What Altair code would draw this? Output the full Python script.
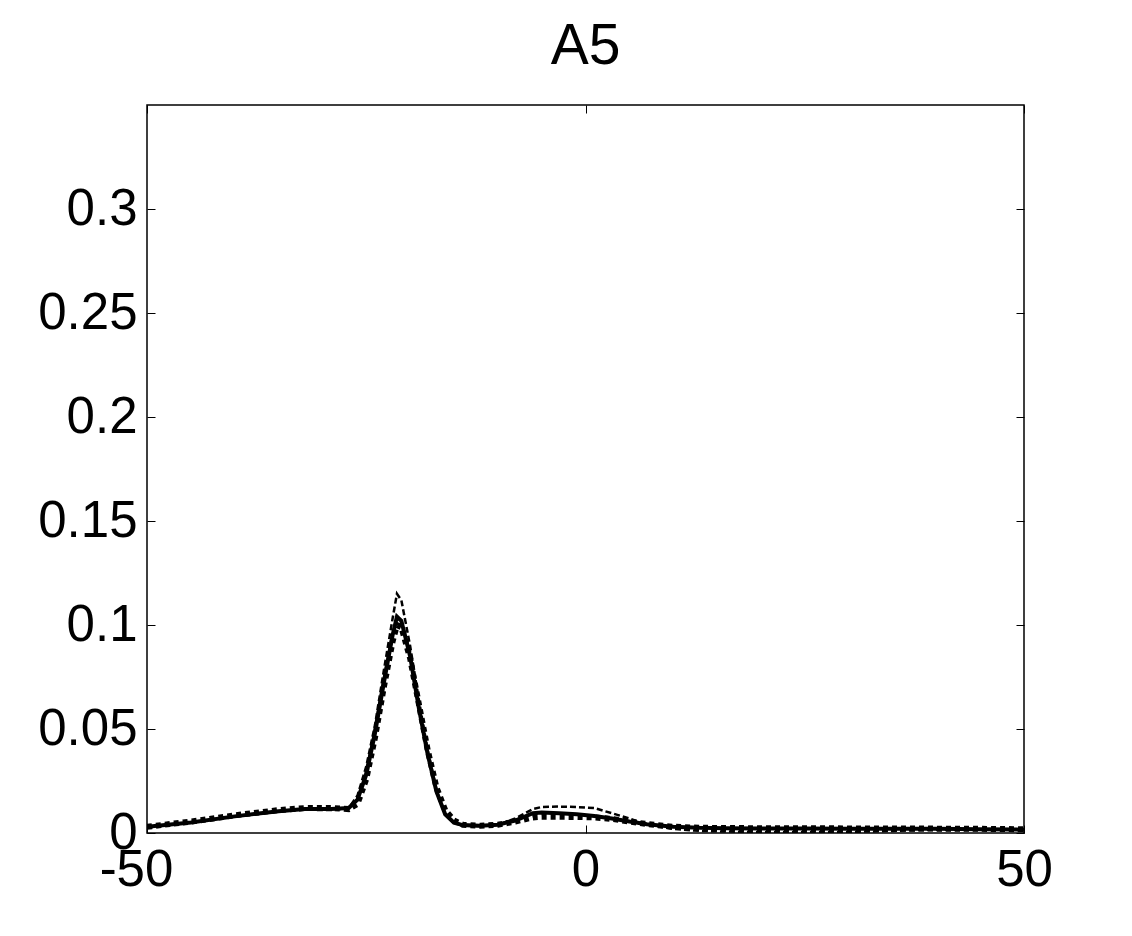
import altair as alt
import pandas as pd

# x positions
x_vals = [-50, -45, -40, -35, -32, -29, -27, -26, -25, -24, -23, -22, -21.5, -21,
          -20, -19, -18, -17, -16, -15, -14, -12, -10, -8, -6, -5, -3, -1, 1, 3,
          5, 7, 10, 13, 16, 20, 25, 30, 35, 40, 45, 50]

solid = [0.003, 0.005, 0.008, 0.0105, 0.0115, 0.0115, 0.012, 0.016, 0.028, 0.048,
         0.072, 0.095, 0.104, 0.102, 0.085, 0.060, 0.038, 0.020, 0.009, 0.005,
         0.0038, 0.0035, 0.004, 0.006, 0.0095, 0.0098, 0.0095, 0.009, 0.0082, 0.007,
         0.0055, 0.0042, 0.003, 0.0025, 0.0023, 0.0022, 0.0022, 0.0021, 0.002, 0.002,
         0.0018, 0.0016]

dotted = [0.003, 0.0055, 0.0085, 0.011, 0.012, 0.012, 0.0115, 0.014, 0.026, 0.046,
          0.070, 0.092, 0.100, 0.099, 0.084, 0.062, 0.040, 0.022, 0.011, 0.006,
          0.004, 0.0035, 0.004, 0.0055, 0.0075, 0.0078, 0.0078, 0.0077, 0.0075, 0.0068,
          0.0055, 0.0043, 0.003, 0.0025, 0.0024, 0.0023, 0.0023, 0.0022, 0.0022, 0.0021,
          0.002, 0.0018]

dashed = [0.0025, 0.005, 0.008, 0.0105, 0.0112, 0.011, 0.012, 0.018, 0.032, 0.052,
          0.078, 0.103, 0.115, 0.112, 0.090, 0.064, 0.040, 0.021, 0.009, 0.005,
          0.0035, 0.0033, 0.004, 0.007, 0.0115, 0.0125, 0.0127, 0.0125, 0.012, 0.0095,
          0.007, 0.004, 0.002, 0.001, 0.0007, 0.0005, 0.0005, 0.0005, 0.001, 0.0015,
          0.0015, 0.0015]

x_ticks = [-50, 0, 50]
y_ticks = [0, 0.05, 0.1, 0.15, 0.2, 0.25, 0.3]

rows = []
for name, ys in [("dotted", dotted), ("solid", solid), ("dashed", dashed)]:
    for xv, yv in zip(x_vals, ys):
        rows.append({"series": name, "x": xv, "y": yv})
df = pd.DataFrame(rows)

FONT = "Liberation Sans"
LS = 51

xscale = alt.Scale(domain=[-50, 50], nice=False, zero=False)
yscale = alt.Scale(domain=[0, 0.35], nice=False)

x_bottom = alt.Axis(orient="bottom", values=x_ticks, title=None, domain=False, grid=False,
                    offset=-8, tickSize=8, tickColor="black", tickWidth=1,
                    labelExpr="'' + datum.value", labelFont=FONT, labelFontSize=LS,
                    labelColor="black", labelPadding=12, labelFlush=False,
                    labelOffset={"condition": {"test": "datum.value < 0", "value": -11},
                                 "value": 0})
y_left = alt.Axis(orient="left", values=y_ticks, title=None, domain=False, grid=False,
                  offset=-8, tickSize=8, tickColor="black", tickWidth=1,
                  format=".2~f", labelFont=FONT, labelFontSize=LS, labelColor="black",
                  labelPadding=10, labelFlush=False)
x_top = alt.Axis(orient="top", values=x_ticks, title=None, domain=False, grid=False,
                 offset=-8, tickSize=8, tickColor="black", tickWidth=1, labels=False)
y_right = alt.Axis(orient="right", values=y_ticks, title=None, domain=False, grid=False,
                   offset=-8, tickSize=8, tickColor="black", tickWidth=1, labels=False)

base = alt.Chart(df)

dotted_layer = base.transform_filter(alt.datum.series == "dotted").mark_line(
    color="black", strokeWidth=6, strokeDash=[5, 4], clip=True
).encode(
    x=alt.X("x:Q", scale=xscale, axis=x_bottom),
    y=alt.Y("y:Q", scale=yscale, axis=y_left),
)

solid_layer = base.transform_filter(alt.datum.series == "solid").mark_line(
    color="black", strokeWidth=4, clip=True
).encode(
    x=alt.X("x:Q", scale=xscale, axis=x_top),
    y=alt.Y("y:Q", scale=yscale, axis=y_right),
)

dashed_layer = base.transform_filter(alt.datum.series == "dashed").mark_line(
    color="black", strokeWidth=2.5, strokeDash=[6, 3], clip=True
).encode(
    x=alt.X("x:Q", scale=xscale, axis=None),
    y=alt.Y("y:Q", scale=yscale, axis=None),
)

chart = alt.layer(dotted_layer, solid_layer, dashed_layer).properties(
    width=877,
    height=728,
    title=alt.TitleParams(text="A5", font=FONT, fontSize=57, fontWeight="normal",
                          color="black", anchor="middle", frame="group",
                          baseline="alphabetic", offset=-16),
    autosize=alt.AutoSizeParams(type="none"),
    padding={"left": 139, "top": 97, "right": 100, "bottom": 100},
    background="white",
).configure_view(
    stroke="black", strokeWidth=1.5
)

chart.save("out.html", embed_options={"renderer": "svg", "actions": False})
